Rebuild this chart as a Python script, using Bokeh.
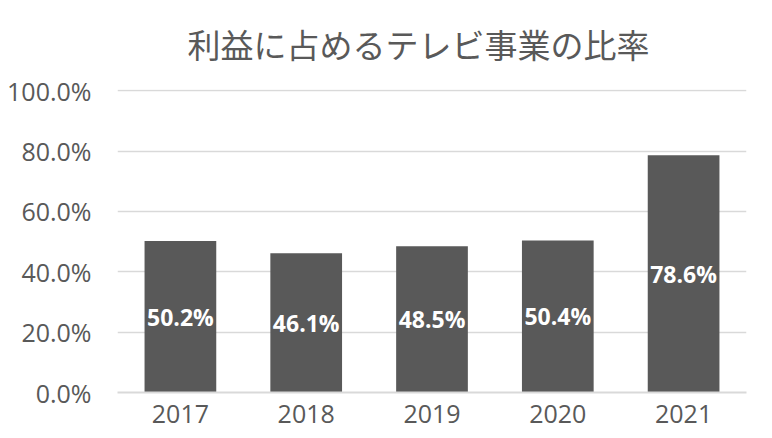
from bokeh.plotting import figure
from bokeh.models import ColumnDataSource, PrintfTickFormatter, FixedTicker, Title, LabelSet
from bokeh.core.properties import value
from bokeh.embed import file_html
from bokeh.resources import INLINE

years = ["2017", "2018", "2019", "2020", "2021"]
ratios = [50.2, 46.1, 48.5, 50.4, 78.6]
labels = ["50.2%", "46.1%", "48.5%", "50.4%", "78.6%"]
y_ticks = [0, 20, 40, 60, 80, 100]

src = ColumnDataSource(dict(
    x=years, top=ratios, lab=labels, mid=[r / 2 for r in ratios]
))

p = figure(x_range=years, y_range=(0, 100.4),
           frame_width=629, frame_height=303,
           output_backend="svg", toolbar_location=None,
           min_border_left=117, min_border_right=10, min_border_top=82,
           min_border_bottom=40, outline_line_color=None)
p.x_range.range_padding = 0

p.title = Title(text="利益に占めるテレビ事業の比率", align="left", offset=70,
                vertical_align="top",
                text_font="Noto Sans CJK JP", text_font_size="33px",
                text_font_style="normal", text_color="#595959", standoff=39)

p.vbar(x="x", top="top", width=0.57, source=src, fill_color="#595959",
       line_color=None)

p.add_layout(LabelSet(x="x", y="mid", text="lab", source=src,
                      text_align="center", text_baseline="middle",
                      text_color="white", text_font=value("Open Sans"),
                      text_font_size="23px", text_font_style="bold"))

p.yaxis.ticker = FixedTicker(ticks=y_ticks)
p.yaxis.formatter = PrintfTickFormatter(format="%.1f%%")
for ax in (p.xaxis, p.yaxis):
    ax.axis_line_color = None
    ax.major_tick_line_color = None
    ax.minor_tick_line_color = None
    ax.major_label_text_font = "Open Sans"
    ax.major_label_text_color = "#595959"
p.yaxis.major_label_text_font_size = "25px"
p.xaxis.major_label_text_font_size = "25px"
p.yaxis.major_label_standoff = 20
p.xaxis.major_label_standoff = 6
p.xaxis.axis_line_color = "#d9d9d9"
p.xaxis.axis_line_width = 2

p.xgrid.grid_line_color = None
p.ygrid.grid_line_color = "#d9d9d9"
p.ygrid.grid_line_width = 1.5

open("out.html", "w").write(file_html(p, INLINE))
